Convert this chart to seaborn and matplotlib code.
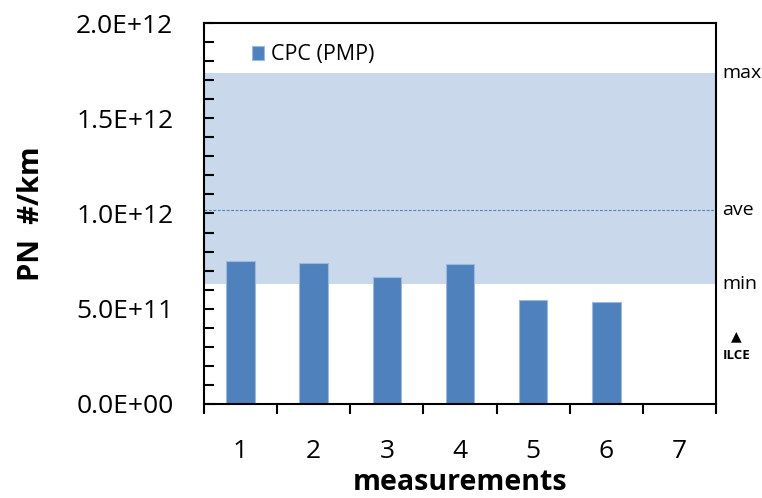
import numpy as np
import pandas as pd
import seaborn as sns
import matplotlib.pyplot as plt
from matplotlib.ticker import FuncFormatter, MultipleLocator, FixedLocator
import matplotlib.transforms as mtransforms

# data
categories = ["1", "2", "3", "4", "5", "6", "7"]
measured = ["1", "2", "3", "4", "5", "6"]
pn_values = [0.749e12, 0.739e12, 0.668e12, 0.733e12, 0.546e12, 0.537e12]
band_min = 0.630e12
band_max = 1.739e12
band_ave = 1.018e12
ilce_level = 0.30e12

sns.set_style("white")
plt.rcParams['font.family'] = ['Open Sans', 'DejaVu Sans']
plt.rcParams['text.color'] = 'black'
plt.rcParams['axes.labelcolor'] = 'black'
plt.rcParams['xtick.color'] = 'black'
plt.rcParams['ytick.color'] = 'black'

df = pd.DataFrame({"measurement": measured, "PN": pn_values})

fig = plt.figure(figsize=(7.62, 4.98), dpi=100)
ax = fig.add_axes([0.2677, 0.1888, 0.6719, 0.765])

# reference band (min..max) and average line
ax.axhspan(band_min, band_max, color="#C9D9EB", zorder=0, lw=0)
ax.axhline(band_ave, color="#4F81BD", lw=0.8, ls=(0, (2.5, 1.5)), zorder=1)

sns.barplot(data=df, x="measurement", y="PN", order=categories, color="#4F81BD",
            saturation=1, width=0.39, edgecolor="#9DB9DE", linewidth=0.8,
            label="CPC (PMP)", ax=ax, zorder=2)

ax.set_xlim(-0.5, 6.5)
ax.set_ylim(0, 2.0e12)

# y axis: labelled every 0.5E12, ticks every 1E11, pointing inwards
ax.yaxis.set_major_locator(MultipleLocator(0.5e12))
ax.yaxis.set_minor_locator(MultipleLocator(0.1e12))
ax.yaxis.set_major_formatter(FuncFormatter(lambda v, p: f"{v:.1E}"))
ax.tick_params(axis="y", which="both", direction="in", length=7, width=1.5,
               labelsize=19, pad=22, left=True)

# x axis: ticks between categories, labels centred
ax.xaxis.set_major_locator(FixedLocator(np.arange(-0.5, 7.0, 1.0)))
ax.xaxis.set_minor_locator(FixedLocator(np.arange(0, 7)))
ax.set_xticklabels([""] * 8)
ax.set_xticklabels(categories, minor=True)
ax.tick_params(axis="x", which="major", direction="out", length=7, width=1.5, bottom=True)
ax.tick_params(axis="x", which="minor", length=0, labelsize=19, pad=25)

for s in ax.spines.values():
    s.set_linewidth(1.5)
    s.set_color("black")

ax.set_xlabel("measurements", fontsize=20.5, fontweight="bold", labelpad=3)
ax.set_ylabel("PN  #/km", fontsize=21, fontweight="bold", labelpad=22)

ax.legend(loc="upper left", bbox_to_anchor=(0.055, 0.995), frameon=False, fontsize=15.5,
          handlelength=0.6, handleheight=0.6, handletextpad=0.3)

# labels to the right of the plot
trans = mtransforms.blended_transform_factory(ax.transAxes, ax.transData)
for name, level in [("max", band_max), ("ave", band_ave), ("min", band_min)]:
    ax.text(1.012, level, name, transform=trans, va="center", ha="left", fontsize=14)
ax.text(1.04, ilce_level + 0.055e12, "\u25B2", transform=trans, va="center", ha="center", fontsize=10,
        family=["DejaVu Sans"])
ax.text(1.04, ilce_level - 0.045e12, "ILCE", transform=trans, va="center", ha="center",
        fontsize=9.5, fontweight="bold")

fig.savefig("out.png", dpi=100)
